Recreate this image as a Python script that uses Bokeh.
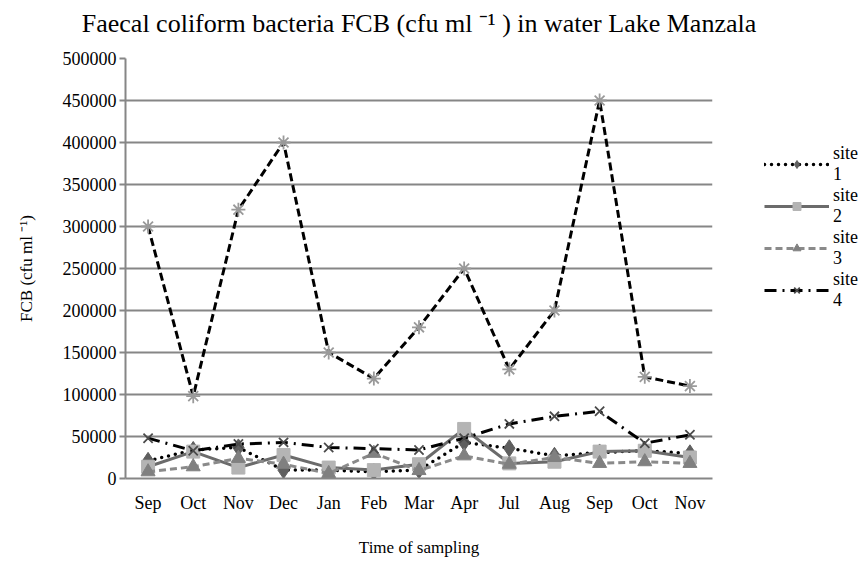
from bokeh.plotting import figure
from bokeh.models import Legend, LegendItem, FixedTicker, Range1d, Title
from bokeh.embed import file_html
from bokeh.resources import INLINE

title_text = "Faecal coliform bacteria FCB (cfu ml \u207b\u00b9 ) in water Lake Manzala"
months = ["Sep", "Oct", "Nov", "Dec", "Jan", "Feb", "Mar", "Apr", "Jul", "Aug", "Sep", "Oct", "Nov"]
site1 = [21000, 34000, 37000, 10000, 10000, 8000, 10000, 43000, 36000, 27000, 31000, 33000, 30000]
site2 = [14000, 32000, 13000, 28000, 13000, 10000, 17000, 59000, 18000, 20000, 32000, 33000, 25000]
site3 = [8000, 14000, 24000, 17000, 6000, 30000, 9500, 27000, 17000, 25000, 18000, 20000, 18000]
site4 = [48000, 33000, 41000, 43000, 37000, 35500, 34000, 48000, 65000, 74000, 80000, 42000, 52000]
site5 = [300000, 98000, 320000, 400000, 150000, 119000, 180000, 250000, 130000, 200000, 450000, 121000, 110000]
y_ticks = list(range(0, 500001, 50000))
legend_labels = ["site\n1", "site\n2", "site\n3", "site\n4"]

FONT = "Liberation Serif"
x = list(range(len(months)))

p = figure(frame_width=587, frame_height=420, output_backend="svg", toolbar_location=None,
           min_border_left=125, min_border_top=58, min_border_bottom=72, min_border_right=10,
           title=title_text)
p.x_range = Range1d(-0.5, len(months) - 0.5)
p.y_range = Range1d(0, 500000)
p.outline_line_color = None

p.title.text_font = FONT
p.title.text_font_size = "26px"
p.title.text_font_style = "normal"
p.title.align = "center"
p.title.vertical_align = "bottom"
p.title.text_color = "#000000"
p.title.standoff = 0

# empty spacer between the title and the frame
p.add_layout(Title(text=" ", text_font_size="14px", standoff=3), "above")

p.xaxis.ticker = FixedTicker(ticks=x)
p.xaxis.major_label_overrides = {i: m for i, m in enumerate(months)}
p.xaxis.major_tick_line_color = None
p.xaxis.minor_tick_line_color = None
p.xaxis.axis_line_color = "#868686"
p.xaxis.axis_line_width = 2
p.xaxis.major_label_text_font = FONT
p.xaxis.major_label_text_font_size = "18px"
p.xaxis.major_label_text_color = "#000000"
p.xaxis.major_label_standoff = 8
p.xaxis.axis_label = "Time of sampling"
p.xaxis.axis_label_text_font = FONT
p.xaxis.axis_label_text_font_size = "17px"
p.xaxis.axis_label_text_font_style = "normal"
p.xaxis.axis_label_text_color = "#000000"
p.xaxis.axis_label_standoff = 22

p.yaxis.ticker = FixedTicker(ticks=y_ticks)
p.yaxis.formatter.use_scientific = False
p.yaxis.minor_tick_line_color = None
p.yaxis.major_tick_out = 6
p.yaxis.major_tick_in = 0
p.yaxis.major_tick_line_color = "#868686"
p.yaxis.major_tick_line_width = 2
p.yaxis.axis_line_color = "#868686"
p.yaxis.axis_line_width = 2
p.yaxis.major_label_text_font = FONT
p.yaxis.major_label_text_font_size = "18px"
p.yaxis.major_label_text_color = "#000000"
p.yaxis.major_label_standoff = 3
p.yaxis.axis_label = "FCB (cfu ml \u207b\u00b9)"
p.yaxis.axis_label_text_font = FONT
p.yaxis.axis_label_text_font_size = "17px"
p.yaxis.axis_label_text_font_style = "normal"
p.yaxis.axis_label_text_color = "#000000"
p.yaxis.axis_label_standoff = 24

p.xgrid.grid_line_color = None
p.ygrid.grid_line_color = "#868686"
p.ygrid.grid_line_width = 2

l1 = p.line(x, site1, line_color="black", line_width=3.5, line_dash="0 7", line_cap="round")
m1 = p.scatter(x, site1, marker="diamond", size=17, fill_color="#5f5f5f", line_color="#5f5f5f")
l2 = p.line(x, site2, line_color="#6b6b6b", line_width=3)
m2 = p.scatter(x, site2, marker="square", size=13, fill_color="#b4b4b4", line_color="#b4b4b4")
l3 = p.line(x, site3, line_color="#8a8a8a", line_width=3, line_dash="7 4")
m3 = p.scatter(x, site3, marker="triangle", size=14, fill_color="#808080", line_color="#808080")
l4 = p.line(x, site4, line_color="black", line_width=3, line_dash="12 6 2 6")
m4 = p.scatter(x, site4, marker="x", size=13, line_color="#4a4a4a", line_width=1.8)
l5 = p.line(x, site5, line_color="black", line_width=3, line_dash="8 4")
m5 = p.scatter(x, site5, marker="asterisk", size=14, line_color="#9a9a9a", line_width=1.8)

legend = Legend(items=[
    LegendItem(label=legend_labels[0], renderers=[l1, m1]),
    LegendItem(label=legend_labels[1], renderers=[l2, m2]),
    LegendItem(label=legend_labels[2], renderers=[l3, m3]),
    LegendItem(label=legend_labels[3], renderers=[l4, m4]),
])
legend.location = (52, 167)
legend.border_line_color = None
legend.background_fill_alpha = 0
legend.label_text_font = FONT
legend.label_text_font_size = "18px"
legend.label_text_color = "#000000"
legend.label_text_line_height = 1.1
legend.label_text_baseline = "top"
legend.glyph_width = 65
legend.glyph_height = 20
legend.spacing = 0
legend.padding = 0
legend.margin = 0
legend.label_standoff = 4
p.add_layout(legend, "right")

open("out.html", "w").write(file_html(p, INLINE))
